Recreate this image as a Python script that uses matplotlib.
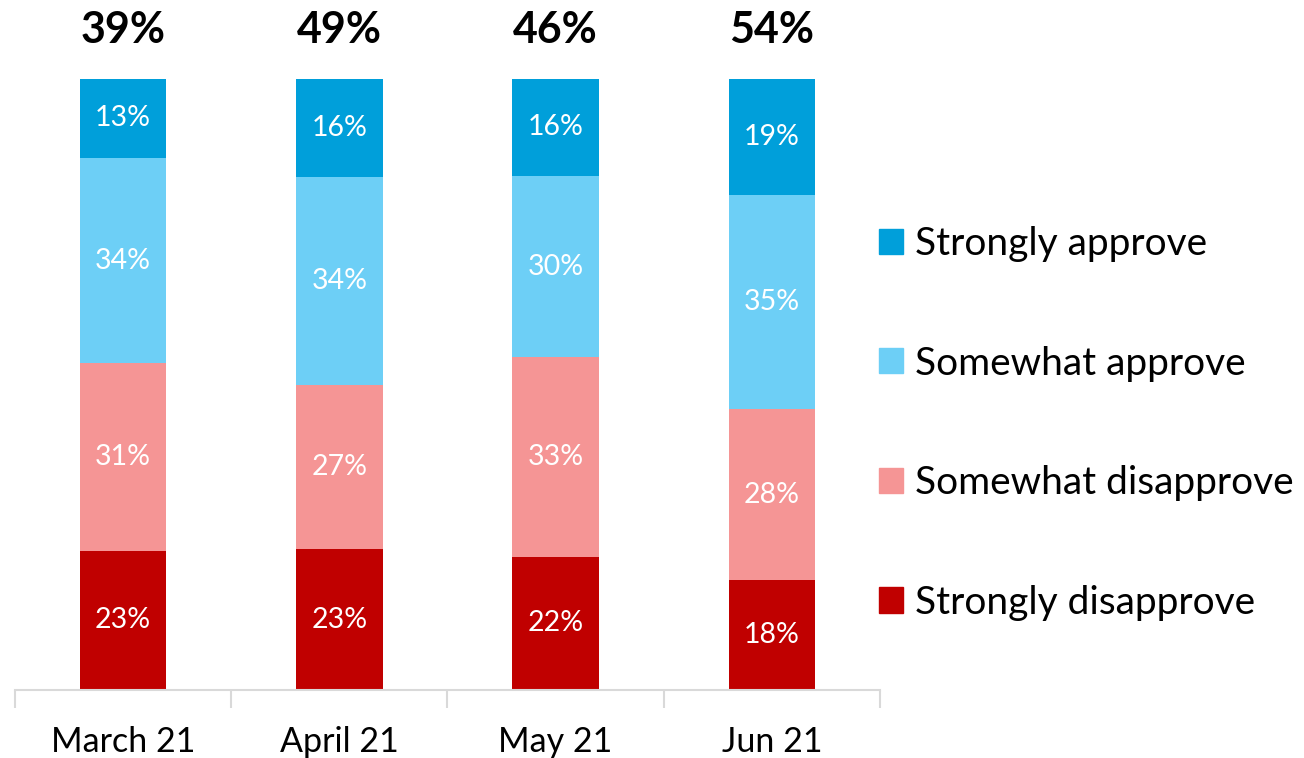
import numpy as np
import matplotlib.pyplot as plt
from matplotlib.patches import Patch

plt.rcParams['font.family'] = ['Lato', 'DejaVu Sans']

# survey waves
months = ["March 21", "April 21", "May 21", "Jun 21"]
net_labels = ["39%", "49%", "46%", "54%"]

# shares, bottom to top
strongly_disapprove = [23, 23, 22, 18]
somewhat_disapprove = [31, 27, 33, 28]
somewhat_approve = [34, 34, 30, 35]
strongly_approve = [13, 16, 16, 19]

series = [strongly_disapprove, somewhat_disapprove, somewhat_approve, strongly_approve]
names = ["Strongly disapprove", "Somewhat disapprove", "Somewhat approve", "Strongly approve"]
colors = ["#C00000", "#F59595", "#6DCFF6", "#009FDA"]

data = np.array(series, dtype=float)
totals = data.sum(axis=0)
shares = data / totals  # bars are stretched to full height

fig = plt.figure(figsize=(13.04, 7.58), dpi=100)
ax = fig.add_axes([0.0115, 0.0897, 0.6633, 0.806])

x = np.arange(len(months))
bottom = np.zeros(len(months))
for vals, frac, col in zip(series, shares, colors):
    ax.bar(x, frac, 0.4, bottom=bottom, color=col, linewidth=0)
    for xi, b, h, v in zip(x, bottom, frac, vals):
        ax.text(xi, b + h / 2, f"{v}%", ha='center', va='center',
                color='white', fontsize=20.5)
    bottom += frac

# headline numbers above each bar
for xi, lab in zip(x, net_labels):
    ax.text(xi, 1.08, lab, ha='center', va='center', fontsize=31,
            fontweight='bold', color='black')

ax.set_xlim(-0.5, len(months) - 0.5)
ax.set_ylim(0, 1)
for s in ['top', 'right', 'left']:
    ax.spines[s].set_visible(False)
ax.spines['bottom'].set_color('#D9D9D9')
ax.spines['bottom'].set_linewidth(1.5)
ax.set_yticks([])

# category separators on the axis
ax.set_xticks(np.arange(len(months) + 1) - 0.5)
ax.set_xticklabels([])
ax.set_xticks(x, minor=True)
ax.set_xticklabels(months, minor=True, fontsize=24.5)
ax.tick_params(axis='x', which='major', length=13, width=1.5, color='#D9D9D9')
ax.tick_params(axis='x', which='minor', length=0, pad=26)

handles = [Patch(color=c) for c in colors[::-1]]
fig.legend(handles, names[::-1], loc='center left', bbox_to_anchor=(0.674, 0.4415),
           frameon=False, fontsize=28, labelspacing=2.15, handlelength=0.62,
           handleheight=0.62, handletextpad=0.3, borderaxespad=0, borderpad=0)

fig.savefig("out.png", dpi=100)
